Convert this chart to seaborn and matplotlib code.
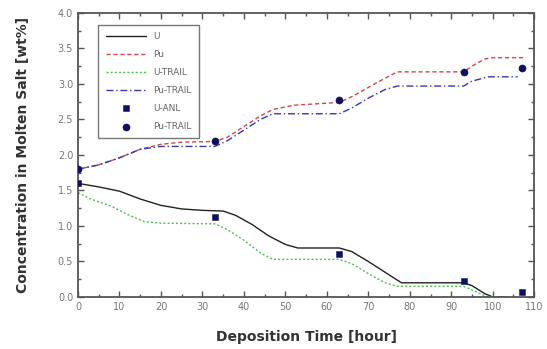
import numpy as np
import pandas as pd
import seaborn as sns
import matplotlib
matplotlib.use("Agg")
import matplotlib.pyplot as plt
from matplotlib.ticker import MultipleLocator

# values
u_time = [0, 5, 10, 15, 20, 25, 30, 35, 38, 42, 46, 50, 53, 63, 66, 70, 74, 78, 93, 95, 98, 100, 103]
u_conc = [1.60, 1.55, 1.49, 1.38, 1.29, 1.24, 1.22, 1.21, 1.15, 1.02, 0.86, 0.74, 0.69, 0.69, 0.64, 0.50, 0.35, 0.20, 0.20, 0.16, 0.05, 0.0, 0.0]

pu_time = [0, 5, 10, 15, 20, 25, 33, 36, 40, 44, 47, 52, 63, 66, 70, 74, 77, 93, 95, 98, 100, 108]
pu_conc = [1.80, 1.86, 1.96, 2.08, 2.15, 2.18, 2.19, 2.25, 2.40, 2.55, 2.64, 2.70, 2.74, 2.82, 2.95, 3.08, 3.17, 3.17, 3.25, 3.35, 3.37, 3.37]

ut_time = [0, 3, 8, 12, 16, 20, 33, 36, 40, 44, 47, 63, 66, 70, 74, 77, 93, 95, 98, 100, 103]
ut_conc = [1.47, 1.38, 1.28, 1.16, 1.06, 1.04, 1.03, 0.95, 0.80, 0.62, 0.53, 0.53, 0.47, 0.33, 0.20, 0.15, 0.15, 0.10, 0.02, 0.0, 0.0]

pt_time = [0, 5, 10, 15, 20, 33, 36, 40, 44, 47, 63, 66, 70, 74, 77, 93, 95, 99, 106]
pt_conc = [1.80, 1.86, 1.96, 2.08, 2.12, 2.12, 2.20, 2.35, 2.50, 2.58, 2.58, 2.66, 2.80, 2.92, 2.97, 2.97, 3.04, 3.10, 3.10]

anl_time = [0, 33, 63, 93, 107]
anl_u = [1.60, 1.12, 0.60, 0.23, 0.07]
anl_pu = [1.80, 2.19, 2.77, 3.17, 3.22]

sns.set_style("ticks")
plt.rcParams['font.family'] = ['DejaVu Sans']

fig = plt.figure(figsize=(5.47, 3.49), dpi=100)
ax = fig.add_axes([0.1426, 0.149, 0.834, 0.814])

sns.lineplot(x=u_time, y=u_conc, ax=ax, color="#222222", lw=1.0, sort=False, label="U")
sns.lineplot(x=pu_time, y=pu_conc, ax=ax, color="#d04848", lw=1.0, sort=False,
             label="Pu", linestyle=(0, (3, 2)))
sns.lineplot(x=ut_time, y=ut_conc, ax=ax, color="#50c050", lw=1.0, sort=False,
             label="U-TRAIL", linestyle=(0, (1.5, 1.5)))
sns.lineplot(x=pt_time, y=pt_conc, ax=ax, color="#3838a8", lw=1.0, sort=False,
             label="Pu-TRAIL", linestyle=(0, (5, 2, 1, 2)))
sns.scatterplot(x=anl_time, y=anl_u, ax=ax, color="#101060", marker="s", s=22,
                edgecolor="#101060", label="U-ANL", zorder=5)
sns.scatterplot(x=anl_time, y=anl_pu, ax=ax, color="#101060", marker="o", s=26,
                edgecolor="#101060", label="Pu-TRAIL", zorder=5)

ax.set_xlim(0, 110)
ax.set_ylim(0, 4.0)
ax.xaxis.set_major_locator(MultipleLocator(10))
ax.xaxis.set_minor_locator(MultipleLocator(5))
ax.yaxis.set_major_locator(MultipleLocator(0.5))
ax.yaxis.set_minor_locator(MultipleLocator(0.25))
ax.tick_params(which="both", direction="in", top=True, right=True, colors="#555555",
               labelcolor="#777777", labelsize=7, width=1.0)
ax.tick_params(which="major", length=4)
ax.tick_params(which="minor", length=2.5)
for sp in ax.spines.values():
    sp.set_color("#555555")
    sp.set_linewidth(1.3)

ax.set_xlabel("Deposition Time [hour]", fontsize=10, fontweight="bold", color="#333333", labelpad=13)
ax.set_ylabel("Concentration in Molten Salt [wt%]", fontsize=10, fontweight="bold", color="#333333", labelpad=20)

leg = ax.legend(loc="upper left", bbox_to_anchor=(0.035, 0.975), fontsize=6.5, frameon=True,
                fancybox=False, edgecolor="#555555", handlelength=4.5, labelspacing=1.0,
                borderpad=0.8, handletextpad=0.8)
leg.get_frame().set_linewidth(1.0)
for t in leg.get_texts():
    t.set_color("#666666")

fig.savefig("out.png", dpi=100)
